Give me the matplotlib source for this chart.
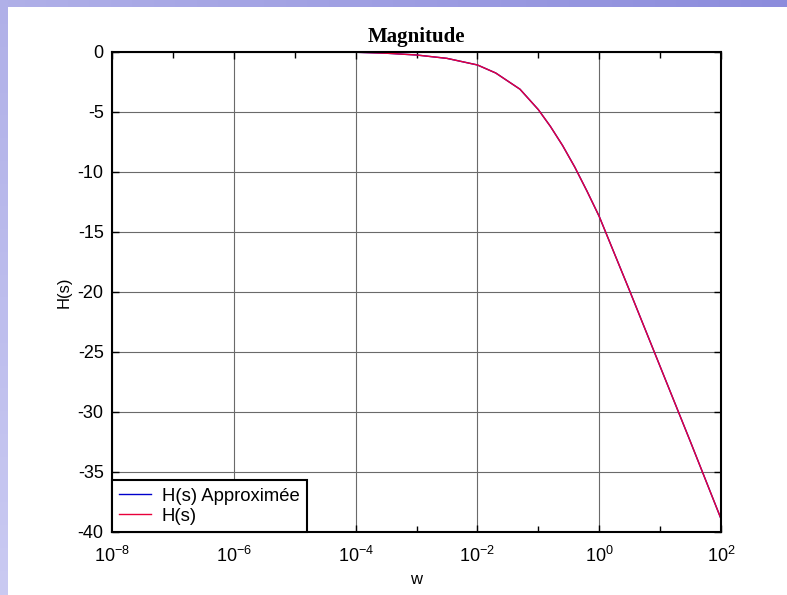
import matplotlib.pyplot as plt
import numpy as np
from matplotlib.ticker import LogLocator, NullFormatter

plt.rcParams["font.family"] = ["Liberation Sans", "DejaVu Sans"]
plt.rcParams["mathtext.default"] = "regular"
plt.rcParams["axes.unicode_minus"] = False

# Frequency (rad/s) and magnitude (dB)
w = [1e-8, 1e-4, 3.16e-4, 1e-3, 3.16e-3, 1e-2, 2.0e-2, 5.0e-2, 1.0e-1,
     1.58e-1, 2.51e-1, 3.98e-1, 6.31e-1, 1.0, 1.778, 3.162, 10.0, 31.62,
     100.0]
h_approx = [0.0, -0.02, -0.1, -0.25, -0.53, -1.08, -1.75, -3.1, -4.8,
            -6.2, -7.8, -9.6, -11.6, -13.7, -16.8, -19.9, -26.2, -32.5,
            -38.9]
h_exact = list(h_approx)

labels = ["H(s) Approximée", "H(s)"]
yticks = [0, -5, -10, -15, -20, -25, -30, -35, -40]

fig = plt.figure(figsize=(7.87, 5.95), dpi=100)

# slide-like lavender frame on the left and top edges
bg = fig.add_axes([0, 0, 1, 1], zorder=-5)
bg.axis("off")
top = np.linspace(0, 1, 256)[None, :, None]
c0 = np.array([176, 176, 232]) / 255
c1 = np.array([140, 140, 220]) / 255
bg.imshow(c0 + (c1 - c0) * top, extent=(0, 787, 7, 0), aspect="auto")
c2 = np.array([202, 202, 242]) / 255
left = np.linspace(0, 1, 256)[:, None, None]
bg.imshow(c0 + (c2 - c0) * left, extent=(0, 8, 595, 0), aspect="auto")
bg.set_xlim(0, 787)
bg.set_ylim(595, 0)

ax = fig.add_axes([112 / 787, 1 - 532 / 595, 609 / 787, 480 / 595])
ax.plot(w, h_approx, color="#0000cc", lw=1.0, label=labels[0])
ax.plot(w, h_exact, color="#e8003a", lw=1.0, label=labels[1])

ax.set_xscale("log")
ax.set_xlim(1e-8, 1e2)
ax.set_ylim(-40, 0)
ax.set_yticks(yticks)
ax.xaxis.set_major_locator(LogLocator(base=100.0, numticks=20))
ax.xaxis.set_minor_locator(LogLocator(base=10.0, subs=(1.0,), numticks=20))
ax.xaxis.set_minor_formatter(NullFormatter())
ax.grid(True, which="major", color="#6a6a6a", lw=0.8)
ax.tick_params(which="both", direction="in", top=True, right=True,
               labelsize=13, length=5, width=1, pad=6)
ax.tick_params(axis="x", which="both", pad=10)
ax.tick_params(which="minor", length=4)
for s in ax.spines.values():
    s.set_linewidth(1.5)

ax.set_title("Magnitude", fontfamily="Liberation Serif", fontweight="bold",
             fontsize=15, pad=7)
ax.set_xlabel("w", fontsize=12, labelpad=4)
ax.set_ylabel("H(s)", fontsize=12, labelpad=4)

leg = ax.legend(loc="lower left", borderaxespad=0, fontsize=13.3,
                fancybox=False, framealpha=1, edgecolor="black",
                handlelength=1.7, borderpad=0.4, labelspacing=0.15,
                handletextpad=0.6)
leg.get_frame().set_linewidth(1.5)

fig.savefig("out.png", dpi=100)
